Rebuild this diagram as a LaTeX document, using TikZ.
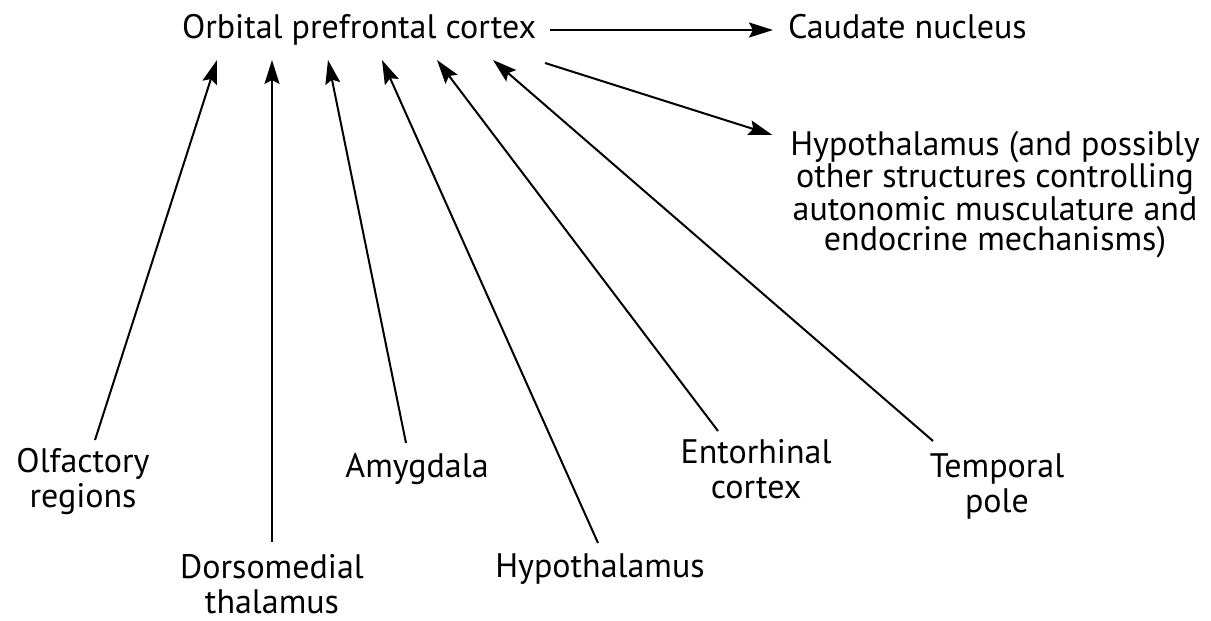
\documentclass[tikz,border=0pt]{standalone}
\usepackage{fontspec}
\setmainfont{PT Sans}
\usetikzlibrary{arrows.meta}
\begin{document}
\begin{tikzpicture}[x=1pt,y=-1pt,
  lbl/.style={inner sep=0pt, outer sep=0pt, font=\fontsize{34}{35}\selectfont, align=center},
  blk/.style={lbl, font=\fontsize{34}{30.8}\selectfont},
  arr/.style={-{Stealth[length=24pt,width=15pt,inset=4pt]}, line width=2pt}]
\useasboundingbox[fill=white] (0,0) rectangle (1211,621);
% top nodes
\node[lbl, anchor=base west] (ofc) at (182,38) {Orbital prefrontal cortex};
\node[lbl, anchor=base west] (caud) at (788,38) {Caudate nucleus};
\node[blk, anchor=north] (hyp) at (995,131) {Hypothalamus (and possibly\\other structures controlling\\autonomic musculature and\\endocrine mechanisms)};
% bottom nodes
\node[lbl, anchor=north] (olf) at (83,448) {Olfactory\\regions};
\node[lbl, anchor=north] (dors) at (272,554) {Dorsomedial\\thalamus};
\node[lbl, anchor=north] (amyg) at (417,453) {Amygdala};
\node[lbl, anchor=north] (hypb) at (600,554) {Hypothalamus};
\node[lbl, anchor=north] (ent) at (756,439) {Entorhinal\\cortex};
\node[lbl, anchor=north] (temp) at (997,454) {Temporal\\pole};
% arrow tips under the orbital prefrontal cortex
\coordinate (t1) at (217,60);
\coordinate (t2) at (272,60);
\coordinate (t3) at (328,60);
\coordinate (t4) at (382,60);
\coordinate (t5) at (437,60);
\coordinate (t6) at (493,60);
% connectors
\draw[arr] ([shift={(12pt,8pt)}]olf.north) -- (t1);
\draw[arr] ([yshift=12pt]dors.north) -- (t2);
\draw[arr] ([shift={(-11pt,10pt)}]amyg.north) -- (t3);
\draw[arr] ([shift={(-2pt,11pt)}]hypb.north) -- (t4);
\draw[arr] ([shift={(-38pt,8pt)}]ent.north) -- (t5);
\draw[arr] ([shift={(-64pt,13pt)}]temp.north) -- (t6);
\draw[arr] ([shift={(14pt,8pt)}]ofc.base east) -- ([shift={(-15pt,8pt)}]caud.base west);
\draw[arr] ([shift={(9pt,-25pt)}]ofc.base east) -- ([shift={(-18pt,-4pt)}]hyp.north west);
\end{tikzpicture}
\end{document}
